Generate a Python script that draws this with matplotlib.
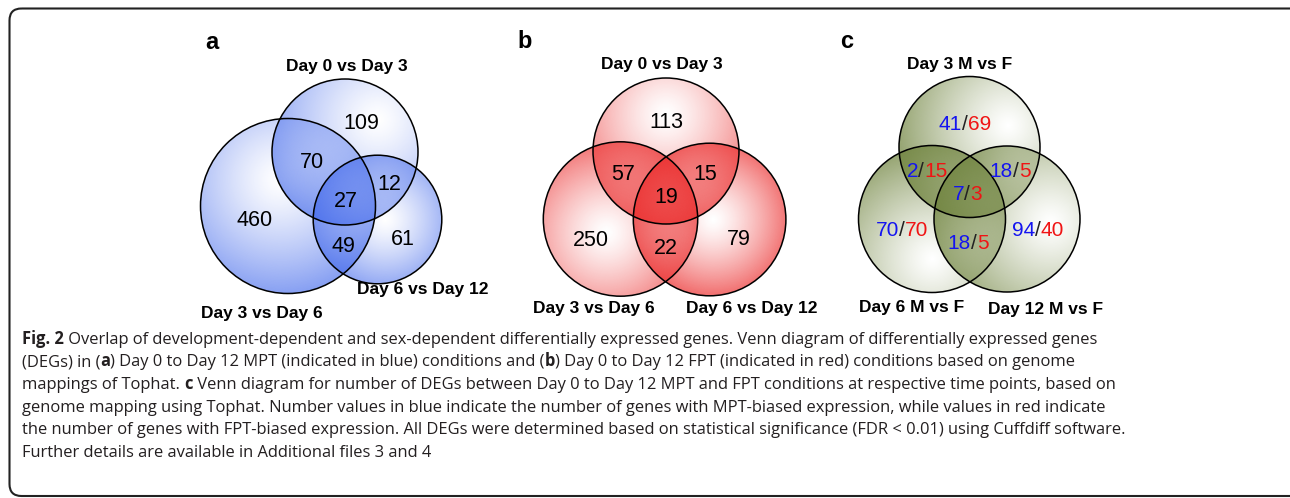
import numpy as np
import matplotlib.pyplot as plt
from matplotlib.patches import Circle, FancyBboxPatch

# region order: only A, only B, only C, A&B, A&C, B&C, A&B&C
names_a = ["Day 0 vs Day 3", "Day 3 vs Day 6", "Day 6 vs Day 12"]
counts_a = [109, 460, 61, 70, 12, 49, 27]

names_b = ["Day 0 vs Day 3", "Day 3 vs Day 6", "Day 6 vs Day 12"]
counts_b = [113, 250, 79, 57, 15, 22, 19]

names_c = ["Day 3 M vs F", "Day 6 M vs F", "Day 12 M vs F"]
mpt_c = [41, 70, 94, 2, 18, 18, 7]    # blue numbers
fpt_c = [69, 70, 40, 15, 5, 5, 3]     # red numbers

caption = [
    [("Fig. 2", "bold"), (" Overlap of development-dependent and sex-dependent differentially expressed genes. Venn diagram of differentially expressed genes", "normal")],
    [("(DEGs) in (", "normal"), ("a", "bold"), (") Day 0 to Day 12 MPT (indicated in blue) conditions and (", "normal"), ("b", "bold"), (") Day 0 to Day 12 FPT (indicated in red) conditions based on genome", "normal")],
    [("mappings of Tophat. ", "normal"), ("c", "bold"), (" Venn diagram for number of DEGs between Day 0 to Day 12 MPT and FPT conditions at respective time points, based on", "normal")],
    [("genome mapping using Tophat. Number values in blue indicate the number of genes with MPT-biased expression, while values in red indicate", "normal")],
    [("the number of genes with FPT-biased expression. All DEGs were determined based on statistical significance (FDR < 0.01) using Cuffdiff software.", "normal")],
    [("Further details are available in Additional files 3 and 4", "normal")],
]

# layout (pixels): circles as (cx, cy, r, highlight dx, dy as fraction of r)
panels = [
    dict(letter="a", letter_xy=(212, 49), color=(60, 100, 235), amax=0.62, p=1.25,
         circles=[(345, 152, 73, 0.45, -0.45), (288, 206, 87.5, -0.1, -0.3), (377.5, 219.5, 64.3, 0.12, 0.0)],
         names=names_a, name_xy=[(347, 65), (262, 312), (423, 288)],
         spots=[(361, 121), (255, 218), (403, 237), (312, 160), (389, 182), (343, 244), (346, 199)]),
    dict(letter="b", letter_xy=(525, 48), color=(235, 40, 40), amax=0.72, p=1.3,
         circles=[(666, 151, 73, 0.0, -0.5), (620.5, 219, 77.2, -0.18, 0.18), (709.6, 219.5, 76.3, 0.05, 0.0)],
         names=names_b, name_xy=[(662, 63), (594, 307), (752, 307)],
         spots=[(666, 120), (591, 238), (739, 237), (623, 172), (705, 172), (666, 246), (666, 195)]),
    dict(letter="c", letter_xy=(847, 48), color=(110, 130, 60), amax=0.75, p=1.2,
         circles=[(969.5, 147, 70.5, 0.55, -0.3), (932, 219, 73.5, 0.0, 0.55), (1007, 219, 73, 0.6, 0.05)],
         names=names_c, name_xy=[(960, 63), (912, 306), (1046, 308)],
         spots=[(965, 122), (902, 228), (1038, 228), (927, 169), (1010, 169), (968, 241), (967, 192)]),
]

W, H = 1290, 498
fig = plt.figure(figsize=(W / 100, H / 100), dpi=100)
ax = fig.add_axes([0, 0, 1, 1])
ax.axis("off")
renderer = fig.canvas.get_renderer()

venn_font = "Liberation Sans"
cap_font = ["Open Sans", "DejaVu Sans"]
ink = "#231f20"


def advance(s, **kw):
    # width including leading/trailing spaces
    t = ax.text(0, 0, "|" + s + "|", **kw)
    w1 = t.get_window_extent(renderer).width
    t.remove()
    t = ax.text(0, 0, "||", **kw)
    w0 = t.get_window_extent(renderer).width
    t.remove()
    return w1 - w0


def put_runs(x, y, runs, ha="left", **kw):
    widths = [advance(s, **{**kw, **extra}) for s, extra in runs]
    if ha == "center":
        x -= sum(widths) / 2
    for (s, extra), w in zip(runs, widths):
        ax.text(x, y, s, ha="left", va="baseline", zorder=4, **{**kw, **extra})
        x += w


def shade(cx, cy, r, hx, hy, rgb, amax, p):
    n = 260
    xs = np.linspace(cx - r, cx + r, n)
    ys = np.linspace(cy - r, cy + r, n)
    X, Y = np.meshgrid(xs, ys)
    reach = r * (1 + np.hypot(hx, hy))
    t = np.clip(np.hypot(X - (cx + hx * r), Y - (cy + hy * r)) / reach, 0, 1)
    img = np.zeros((n, n, 4))
    img[..., :3] = np.array(rgb) / 255
    img[..., 3] = amax * t ** p
    im = ax.imshow(img, extent=(cx - r, cx + r, cy + r, cy - r), origin="upper",
                   aspect="auto", interpolation="bilinear", zorder=1)
    im.set_clip_path(Circle((cx, cy), r, transform=ax.transData))


def base(yc, pt):
    return yc + 0.36 * pt * 100 / 72


num_pt, name_pt, letter_pt = 15.5, 12.5, 17

for k, pan in enumerate(panels):
    for (cx, cy, r, hx, hy) in pan["circles"]:
        shade(cx, cy, r, hx, hy, pan["color"], pan["amax"], pan["p"])
    for (cx, cy, r, hx, hy) in pan["circles"]:
        ax.add_patch(Circle((cx, cy), r, fill=False, ec="black", lw=1.1, zorder=2))
    ax.text(*pan["letter_xy"], pan["letter"], ha="center", va="baseline",
            fontsize=letter_pt, fontweight="bold", family=venn_font, color="black")
    for name, (x, y) in zip(pan["names"], pan["name_xy"]):
        ax.text(x, base(y, name_pt), name, ha="center", va="baseline", fontsize=name_pt,
                fontweight="bold", family=venn_font, color="black", zorder=4)
    for i, (x, y) in enumerate(pan["spots"]):
        if k < 2:
            val = (counts_a, counts_b)[k][i]
            ax.text(x, base(y, num_pt), str(val), ha="center", va="baseline",
                    fontsize=num_pt, family=venn_font, color="black", zorder=4)
        else:
            put_runs(x, base(y, num_pt - 0.5),
                     [(str(mpt_c[i]), dict(color="#1414f0")), ("/", dict(color="#222222")),
                      (str(fpt_c[i]), dict(color="#f01414"))],
                     ha="center", fontsize=num_pt - 0.5, family=venn_font)

# rounded frame, cut off at the right edge
ax.add_patch(FancyBboxPatch((9.5, 8.5), 1300, 487.5, boxstyle="round,pad=0,rounding_size=12",
                            fill=False, ec="#222222", lw=1.5, zorder=5))

# caption: size chosen so that line 5 spans the same width as in the figure
ref = sum(advance(s, fontsize=10, family=cap_font, fontweight=wt) for s, wt in caption[4])
cap_pt = 10 * 1111 / ref
for j, line in enumerate(caption):
    put_runs(22, 343.5 + j * 22.7, [(s, dict(fontweight=wt)) for s, wt in line],
             fontsize=cap_pt, family=cap_font, color=ink)

ax.set_xlim(0, W)
ax.set_ylim(H, 0)
fig.savefig("out.png", dpi=100)
